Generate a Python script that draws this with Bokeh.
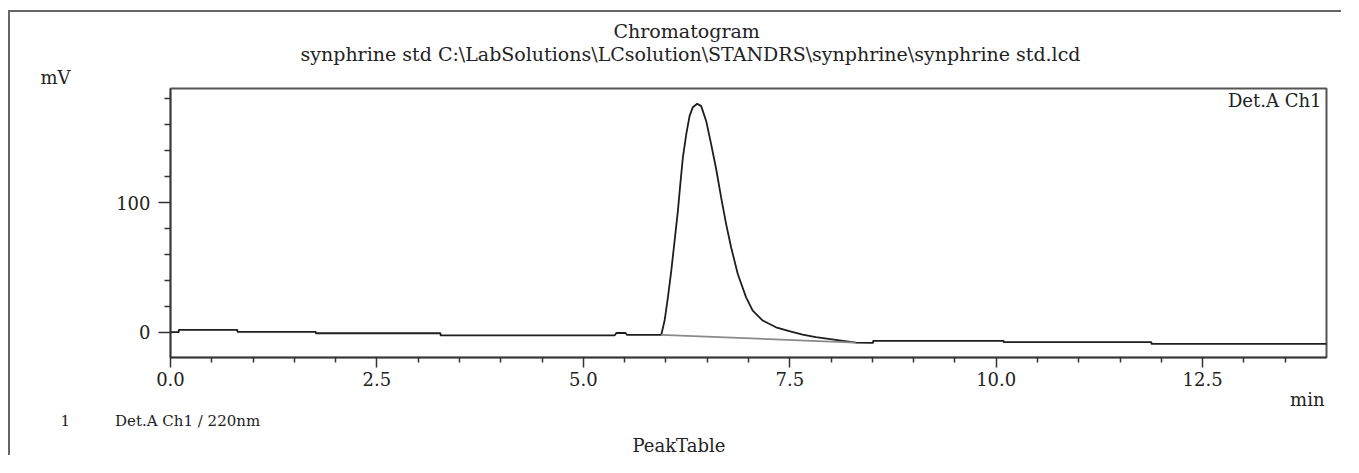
from bokeh.plotting import figure
from bokeh.models import Label, Title, FixedTicker, PrintfTickFormatter, Range1d
from bokeh.embed import file_html
from bokeh.resources import INLINE

# ---- data ----
signal_t = [0.0, 0.1, 0.1, 0.81, 0.81, 1.76, 1.76, 3.27, 3.27, 5.38, 5.40, 5.51, 5.53,
            5.944, 5.984, 6.024, 6.065, 6.105, 6.145, 6.174, 6.205, 6.246, 6.286, 6.326,
            6.379, 6.427, 6.488, 6.548, 6.609, 6.669, 6.729, 6.790, 6.870, 6.971, 7.051,
            7.172, 7.333, 7.494, 7.655, 7.816, 8.058, 8.30, 8.51, 8.51, 10.09, 10.09,
            11.88, 11.88, 14.0]
signal_mv = [0.0, 0.0, 1.8, 1.8, 0.3, 0.3, -0.8, -0.8, -2.4, -2.4, -0.6, -0.6, -2.0,
             -2.0, 9.0, 26.9, 47.5, 70.5, 93.6, 114.2, 134.6, 152.6, 166.7, 173.6,
             176.2, 174.4, 162.8, 144.9, 125.7, 103.8, 83.4, 65.4, 44.9, 26.9, 16.7,
             9.0, 3.8, 0.8, -1.8, -3.8, -5.9, -8.0, -8.2, -6.6, -6.6, -7.7,
             -7.7, -9.0, -9.0]
baseline_t = [5.944, 8.30]
baseline_mv = [-2.0, -8.0]

x_major = [0.0, 2.5, 5.0, 7.5, 10.0, 12.5]
x_minor = [0.5, 1.0, 1.5, 2.0, 3.0, 3.5, 4.0, 4.5, 5.5, 6.0, 6.5, 7.0, 8.0, 8.5, 9.0,
           9.5, 10.5, 11.0, 11.5, 12.0, 13.0, 13.5]
y_major = [0, 100]
y_minor = [20, 40, 60, 80, 120, 140, 160, 180]

title_text = "Chromatogram"
subtitle_text = "synphrine std C:\\LabSolutions\\LCsolution\\STANDRS\\synphrine\\synphrine std.lcd"
y_unit = "mV"
x_unit = "min"
channel_text = "Det.A Ch1"
legend_text = "1\u2003\u2003\u2003Det.A Ch1 / 220nm"
footer_text = "PeakTable"

FONT = "DejaVu Serif"
TXT = "#222222"

p = figure(width=1333, height=445, output_backend="svg", toolbar_location=None,
           x_range=Range1d(0, 14), y_range=Range1d(-19.5, 188),
           min_border_left=160, min_border_right=17, min_border_top=76,
           min_border_bottom=100)
p.title.text = ""
p.styles = {"margin-left": "8px", "margin-top": "10px",
            "border-left": "2px solid #666666", "border-top": "2px solid #666666"}
p.grid.visible = False
p.outline_line_color = "#555555"
p.outline_line_width = 2

p.line(signal_t, signal_mv, line_color="#1e1e1e", line_width=1.8)
p.line(baseline_t, baseline_mv, line_color="#8a8a8a", line_width=1.8)

p.xaxis.ticker = FixedTicker(ticks=x_major, minor_ticks=x_minor)
p.xaxis.formatter = PrintfTickFormatter(format="%.1f")
p.yaxis.ticker = FixedTicker(ticks=y_major, minor_ticks=y_minor)
p.yaxis.formatter = PrintfTickFormatter(format="%d")
for ax in (p.xaxis, p.yaxis):
    ax.major_label_text_font = FONT
    ax.major_label_text_font_size = "18px"
    ax.major_label_text_color = TXT
    ax.axis_line_color = "#333333"
    ax.axis_line_width = 1.5
    ax.major_tick_line_color = "#333333"
    ax.minor_tick_line_color = "#333333"
    ax.major_tick_line_width = 1.5
    ax.minor_tick_line_width = 1.5
    ax.major_tick_in = 0
    ax.minor_tick_in = 0
p.xaxis.major_tick_out = 10
p.xaxis.minor_tick_out = 5
p.xaxis.major_label_standoff = 4
p.yaxis.major_tick_out = 12
p.yaxis.minor_tick_out = 6
p.yaxis.major_label_standoff = 8

p.add_layout(Label(text=channel_text, x=1151, y=257, x_units="screen", y_units="screen",
                   text_align="right", text_baseline="middle", text_font=FONT,
                   text_font_size="18px", text_color=TXT))


def ttl(text, side, align, offset, standoff=0, size="18px", valign="middle"):
    p.add_layout(Title(text=text, align=align, offset=offset, standoff=standoff,
                       vertical_align=valign, text_font=FONT, text_font_size=size,
                       text_font_style="normal", text_color=TXT), side)


# above: nearest the frame first
ttl(y_unit, "above", "left", -130)
ttl(subtitle_text, "above", "left", 130, size="19px")
ttl(title_text, "above", "left", 443, size="19px", valign="bottom")
# below: after the x axis
ttl(x_unit, "below", "right", 2, valign="top")
ttl(legend_text, "below", "left", -110, size="15px", valign="top")
ttl(footer_text, "below", "left", 462, standoff=2, valign="bottom")

open("out.html", "w").write(file_html(p, INLINE))
